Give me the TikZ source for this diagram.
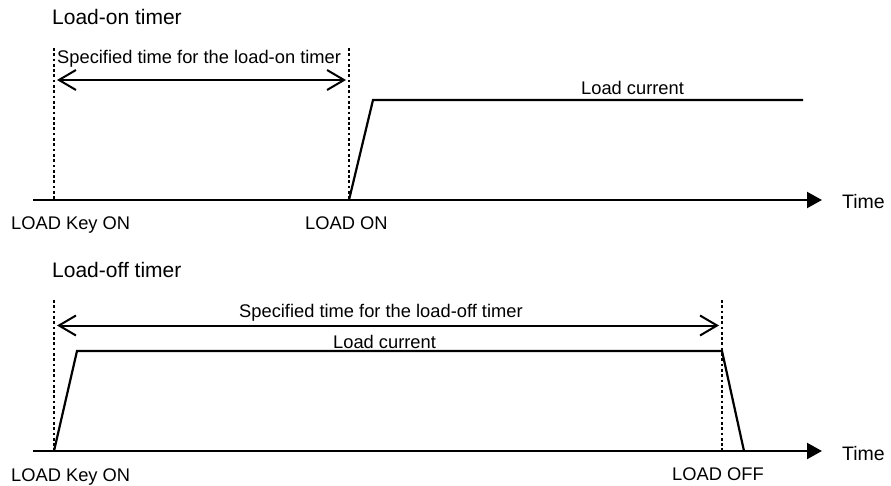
\documentclass[tikz,border=0pt]{standalone}
\usepackage{fontspec}
\setmainfont{Liberation Sans}
\usetikzlibrary{arrows.meta}
\begin{document}
\begin{tikzpicture}[x=1pt,y=-1pt,
  txt/.style={inner sep=0pt, anchor=base west, font=\fontsize{18.3}{22}\selectfont},
  ttl/.style={inner sep=0pt, anchor=base west, font=\fontsize{21}{25}\selectfont},
  axisline/.style={line width=2.2pt, -{Triangle[length=15pt,width=16pt]}},
  sig/.style={line width=2.2pt, line join=miter},
  guide/.style={line width=2.5pt, dash pattern=on 2.7pt off 2.6pt},
  span/.style={line width=2pt, shorten <=3pt, shorten >=3pt,
    {Straight Barb[length=17pt,width=20pt]}-{Straight Barb[length=17pt,width=20pt]}}]
\useasboundingbox (0,0) rectangle (891,486);
% ---------- Load-on timer ----------
\coordinate (a0) at (33,200);
\coordinate (a1) at (822,200);
\coordinate (k1t) at (54,48);
\coordinate (k1b) at (54,200);
\coordinate (o1t) at (349,48);
\coordinate (o1b) at (349,200);
\coordinate (r1) at (373,100);
\coordinate (e1) at (803,100);
\coordinate (s1l) at (54,80);
\coordinate (s1r) at (349,80);
\node[ttl] (t1) at (52,24.5) {Load-on timer};
\draw[axisline] (a0) -- (a1);
\draw[guide] (k1t) -- (k1b);
\draw[guide] (o1t) -- (o1b);
\draw[span] (s1l) -- (s1r);
\draw[sig] (o1b) -- (r1) -- (e1);
\node[txt] (sp1) at (57,63.5) {Specified time for the load-on timer};
\node[txt] (lc1) at (581,95) {Load current};
\node[txt] (kon1) at (11,230) {LOAD Key ON};
\node[txt] (lon) at (305,230) {LOAD ON};
\node[txt, font=\fontsize{19.5}{23}\selectfont] (tm1) at (842,209) {Time};
% ---------- Load-off timer ----------
\coordinate (a2) at (33,451);
\coordinate (a3) at (822,451);
\coordinate (k2t) at (54,300);
\coordinate (k2b) at (54,451);
\coordinate (f2t) at (722,300);
\coordinate (f2b) at (722,451);
\coordinate (r2) at (77,351);
\coordinate (e2) at (722,351);
\coordinate (z2) at (744,451);
\coordinate (s2l) at (54,325.5);
\coordinate (s2r) at (722,325.5);
\node[ttl] (t2) at (52,277) {Load-off timer};
\draw[axisline] (a2) -- (a3);
\draw[guide] (k2t) -- (k2b);
\draw[guide] (f2t) -- (f2b);
\draw[span] (s2l) -- (s2r);
\draw[sig] (k2b) -- (r2) -- (e2) -- (z2);
\node[txt] (sp2) at (239,317) {Specified time for the load-off timer};
\node[txt] (lc2) at (333,348.5) {Load current};
\node[txt] (kon2) at (11,481.5) {LOAD Key ON};
\node[txt] (loff) at (672,480) {LOAD OFF};
\node[txt, font=\fontsize{19.5}{23}\selectfont] (tm2) at (842,460) {Time};
\end{tikzpicture}
\end{document}
